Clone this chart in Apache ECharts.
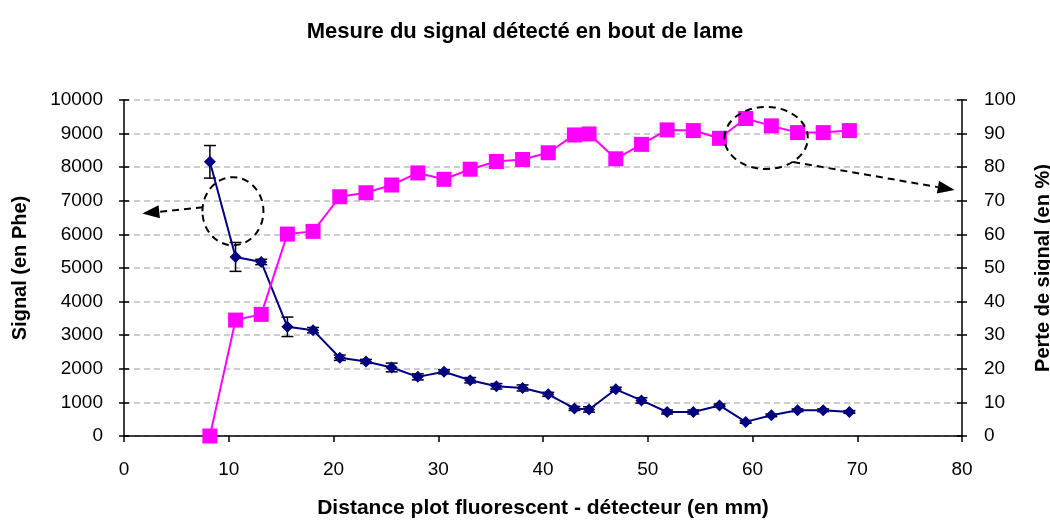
<!DOCTYPE html>
<html>
<head>
<meta charset="utf-8">
<script src="https://cdn.jsdelivr.net/npm/echarts@6/dist/echarts.min.js"></script>
<style>
  html, body { margin: 0; padding: 0; background: #fff; }
  #main { width: 1050px; height: 521px; }
</style>
</head>
<body>
<div id="main"></div>
<script>
// distance plot - detecteur (mm)
let distances = [8.2, 10.65, 13.1, 15.6, 18.05, 20.6, 23.1, 25.55, 28.05, 30.55, 33.05, 35.55, 38.05,
                 40.5, 43.0, 44.4, 46.95, 49.4, 51.85, 54.35, 56.85, 59.35, 61.8, 64.3, 66.75, 69.25];
// signal (en Phe) + barres d'erreur
let signal = [8160, 5330, 5180, 3250, 3150, 2330, 2220, 2040, 1760, 1910, 1660, 1480, 1430,
              1240, 820, 790, 1390, 1060, 715, 715, 910, 420, 615, 765, 765, 715];
let signalErr = [485, 430, 80, 290, 80, 80, 60, 130, 90, 60, 80, 80, 90,
                 60, 60, 80, 60, 80, 60, 60, 40, 40, 40, 40, 40, 40];
// perte de signal (en %)
let perte = [0, 34.5, 36.2, 60.1, 60.9, 71.2, 72.4, 74.7, 78.3, 76.4, 79.4, 81.7, 82.3,
             84.3, 89.6, 89.9, 82.5, 86.8, 91.1, 90.9, 88.6, 94.5, 92.3, 90.3, 90.3, 90.9];

let font = 'Liberation Sans, Arial, sans-serif';

let chartDom = document.getElementById('main');
let myChart = echarts.init(chartDom);
let option;

let plain = function (v) { return String(v); };
let axisLineStyle = { color: '#000', width: 1.5 };

// copie d'axe sans label, juste pour que les graduations traversent l'axe
function innerTicks(position, max, interval) {
    return {
        type: 'value',
        position: position,
        min: 0,
        max: max,
        interval: interval,
        axisLine: { show: false },
        axisTick: { show: true, inside: true, length: 5, lineStyle: axisLineStyle },
        axisLabel: { show: false },
        splitLine: { show: false }
    };
}

option = {
    animation: false,
    title: {
        text: 'Mesure du signal détecté en bout de lame',
        left: 'center',
        top: 16,
        textStyle: { fontFamily: font, fontSize: 22, fontWeight: 'bold', color: '#000' }
    },
    grid: { left: 124, right: 88, top: 100, bottom: 85, outerBoundsMode: 'none' },
    xAxis: {
        type: 'value',
        min: 0,
        max: 80,
        interval: 10,
        name: 'Distance plot fluorescent - détecteur (en mm)',
        nameLocation: 'middle',
        nameGap: 62,
        nameTextStyle: { fontFamily: font, fontSize: 21, fontWeight: 'bold', color: '#000' },
        axisLine: { lineStyle: axisLineStyle },
        axisTick: { length: 6, lineStyle: axisLineStyle },
        axisLabel: { fontFamily: font, fontSize: 19, color: '#000', margin: 24, formatter: plain },
        splitLine: { show: false }
    },
    yAxis: [
        {
            type: 'value',
            min: 0,
            max: 10000,
            interval: 1000,
            name: 'Signal (en Phe)',
            nameLocation: 'middle',
            nameRotate: 90,
            nameGap: 94,
            nameTextStyle: { fontFamily: font, fontSize: 20, fontWeight: 'bold', color: '#000' },
            axisLine: { show: true, lineStyle: axisLineStyle },
            axisTick: { show: true, length: 5, lineStyle: axisLineStyle },
            axisLabel: { fontFamily: font, fontSize: 19, color: '#000', margin: 21, formatter: plain },
            splitLine: { show: true, lineStyle: { color: '#bdbdbd', width: 1.5, type: [6, 4] } }
        },
        {
            type: 'value',
            min: 0,
            max: 100,
            interval: 10,
            position: 'right',
            name: 'Perte de signal (en %)',
            nameLocation: 'middle',
            nameRotate: 90,
            nameGap: 71,
            nameTextStyle: { fontFamily: font, fontSize: 20, fontWeight: 'bold', color: '#000' },
            axisLine: { show: true, lineStyle: axisLineStyle },
            axisTick: { show: true, length: 5, lineStyle: axisLineStyle },
            axisLabel: { fontFamily: font, fontSize: 19, color: '#000', margin: 22, formatter: plain },
            splitLine: { show: false }
        },
        innerTicks('left', 10000, 1000),
        innerTicks('right', 100, 10)
    ],
    series: [
        {
            name: 'Erreur',
            type: 'custom',
            yAxisIndex: 0,
            z: 2,
            clip: false,
            data: distances.map((d, i) => [d, signal[i] - signalErr[i], signal[i] + signalErr[i]]),
            encode: { x: 0, y: [1, 2] },
            renderItem: function (params, api) {
                let x = api.value(0);
                let bot = api.coord([x, api.value(1)]);
                let top = api.coord([x, api.value(2)]);
                let w = 6;
                let style = { stroke: '#000', lineWidth: 1.5 };
                return {
                    type: 'group',
                    children: [
                        { type: 'line', shape: { x1: top[0], y1: top[1], x2: bot[0], y2: bot[1] }, style: style },
                        { type: 'line', shape: { x1: top[0] - w, y1: top[1], x2: top[0] + w, y2: top[1] }, style: style },
                        { type: 'line', shape: { x1: bot[0] - w, y1: bot[1], x2: bot[0] + w, y2: bot[1] }, style: style }
                    ]
                };
            }
        },
        {
            name: 'Signal',
            type: 'line',
            yAxisIndex: 0,
            z: 3,
            data: distances.map((d, i) => [d, signal[i]]),
            symbol: 'diamond',
            symbolSize: [12, 12],
            itemStyle: { color: '#000080' },
            lineStyle: { color: '#000080', width: 2 }
        },
        {
            name: 'Perte',
            type: 'line',
            yAxisIndex: 1,
            z: 4,
            clip: false,
            data: distances.map((d, i) => [d, perte[i]]),
            symbol: 'rect',
            symbolSize: 15,
            itemStyle: { color: '#ff00ff' },
            lineStyle: { color: '#ff00ff', width: 2 }
        }
    ]
};

option && myChart.setOption(option);

// annotations : ellipses pointillees + fleches vers les axes
function arrow(from, to) {
    let dx = to[0] - from[0], dy = to[1] - from[1];
    let len = Math.sqrt(dx * dx + dy * dy);
    let ux = dx / len, uy = dy / len;
    let hl = 17, hw = 6.5;
    let bx = to[0] - ux * hl, by = to[1] - uy * hl;
    return [
        {
            type: 'line',
            shape: { x1: from[0], y1: from[1], x2: bx, y2: by },
            style: { stroke: '#000', lineWidth: 2, lineDash: [7, 5] }
        },
        {
            type: 'polygon',
            shape: { points: [to, [bx - uy * hw, by + ux * hw], [bx + uy * hw, by - ux * hw]] },
            style: { fill: '#000' }
        }
    ];
}

let c1 = myChart.convertToPixel({ xAxisIndex: 0, yAxisIndex: 0 }, [10.4, 6690]);
let tip1 = myChart.convertToPixel({ xAxisIndex: 0, yAxisIndex: 0 }, [1.75, 6620]);
let c2 = myChart.convertToPixel({ xAxisIndex: 0, yAxisIndex: 1 }, [61.3, 88.7]);
let tip2 = myChart.convertToPixel({ xAxisIndex: 0, yAxisIndex: 1 }, [79.3, 73.2]);

let dashed = { fill: 'none', stroke: '#000', lineWidth: 2, lineDash: [7, 5] };

myChart.setOption({
    graphic: [
        { type: 'ellipse', shape: { cx: c1[0], cy: c1[1], rx: 30.5, ry: 34 }, style: dashed },
        { type: 'ellipse', shape: { cx: c2[0], cy: c2[1], rx: 41.7, ry: 31 }, style: dashed }
    ].concat(
        arrow([c1[0] - 30, c1[1] - 4], tip1),
        arrow([c2[0] + 27, c2[1] + 24], tip2)
    ).map(function (g) { g.z = 10; return g; })
});
</script>
</body>
</html>
